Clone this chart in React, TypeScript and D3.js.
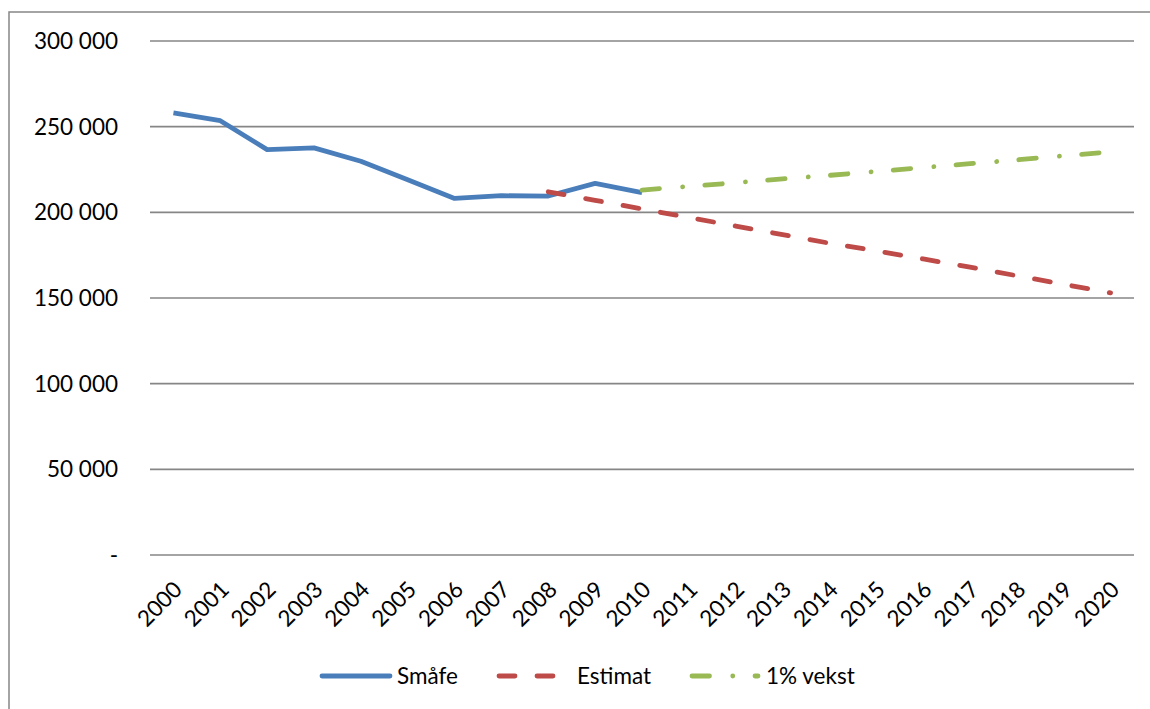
import React from "react";
import * as d3 from "d3";

const years = ["2000","2001","2002","2003","2004","2005","2006","2007","2008","2009","2010","2011","2012","2013","2014","2015","2016","2017","2018","2019","2020"];
const smafeYears = ["2000","2001","2002","2003","2004","2005","2006","2007","2008","2009","2010"];
const smafe = [258100, 253500, 236600, 237600, 229800, 219000, 208100, 209700, 209500, 216900, 211500];
const estimatYears = ["2008","2009","2010","2011","2012","2013","2014","2015","2016","2017","2018","2019","2020"];
const estimat = [212000, 207000, 202000, 197000, 192000, 187000, 182000, 177500, 172800, 168000, 163000, 158000, 153000];
const vekstYears = ["2010","2011","2012","2013","2014","2015","2016","2017","2018","2019","2020"];
const vekst = [213000, 215100, 217300, 219500, 221600, 223900, 226100, 228400, 230600, 233000, 235300];
const yTicks = [0, 50000, 100000, 150000, 200000, 250000, 300000];
const legendItems = ["Småfe", "Estimat", "1% vekst"];

const W = 1150, H = 709;
const left = 150, right = 1134, top = 41, bottom = 555;
const FONT = "Lato, 'Open Sans', sans-serif";
const colors = ["#4A7EBB", "#BE4B48", "#98B954"];
const dashes = ["none", "16 22", "17.5 23.25 0.01 22.25"];

function fmt(v: number) {
  if (v === 0) return "-";
  return d3.format(",")(v).replace(/,/g, " ");
}

export default function App() {
  const x = d3.scaleBand<string>().domain(years).range([left, right]);
  const y = d3.scaleLinear().domain([0, 300000]).range([bottom, top]);
  const cx = (yr: string) => (x(yr) as number) + x.bandwidth() / 2;
  const mk = (yrs: string[], vals: number[]) =>
    d3.line<number>().x((_, i) => cx(yrs[i])).y((d) => y(d))(vals) as string;
  const series = [mk(smafeYears, smafe), mk(estimatYears, estimat), mk(vekstYears, vekst)];

  const legendX = [322, 497, 690];
  const legendTextX = [397, 577, 766];
  const legendY = 676;

  return (
    <svg width={W} height={H} style={{ position: "absolute", left: 0, top: 0, background: "#fff" }} fontFamily={FONT}>
      <rect x={9} y={12} width={1160} height={720} fill="#fff" stroke="#878787" strokeWidth={1.5} />
      {yTicks.map((t) => (
        <g key={t}>
          <line x1={left} x2={right} y1={y(t)} y2={y(t)} stroke="#868686" strokeWidth={1.6} />
          <text x={118} y={y(t)} dy="0.35em" textAnchor="end" fontSize={22.5} fill="#000">{fmt(t)}</text>
        </g>
      ))}
      {years.map((yr) => (
        <text key={yr} transform={`translate(${cx(yr) - 1},${580}) rotate(-45)`} textAnchor="end" fontSize={22.5} fill="#000" dy="0.7em">{yr}</text>
      ))}
      {series.map((d, i) => (
        <path key={i} d={d} fill="none" stroke={colors[i]} strokeWidth={4.8}
          strokeDasharray={dashes[i]} strokeLinecap={i === 0 ? "butt" : "round"} strokeLinejoin="round" />
      ))}
      {legendItems.map((name, i) => (
        <g key={name}>
          <line x1={legendX[i] + (i === 0 ? 0 : 2)} x2={legendX[i] + 68} y1={legendY} y2={legendY}
            stroke={colors[i]} strokeWidth={4.8} strokeLinecap="round"
            strokeDasharray={dashes[i]} />
          <text x={legendTextX[i]} y={legendY} dy="0.35em" fontSize={22.5} fill="#000">{name}</text>
        </g>
      ))}
    </svg>
  );
}
